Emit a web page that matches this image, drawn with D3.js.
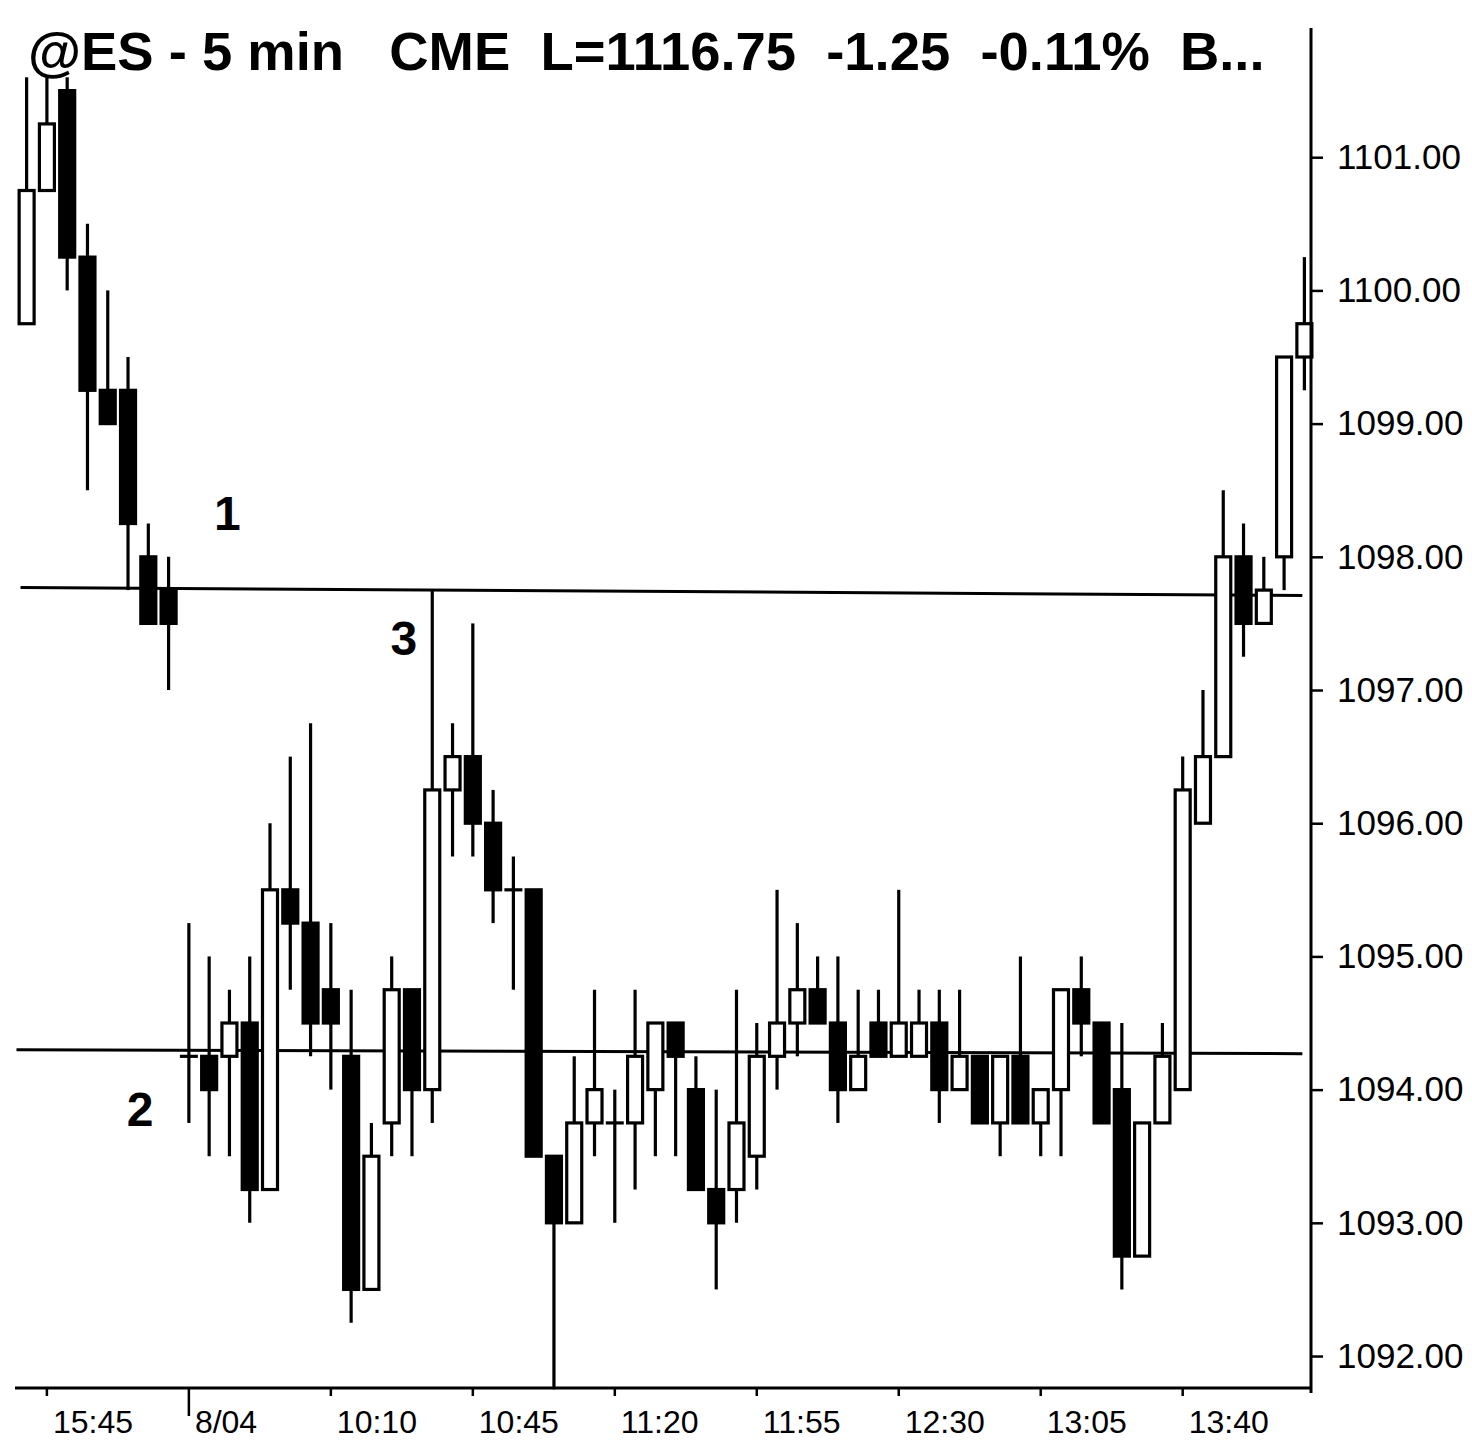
<!DOCTYPE html>
<html><head><meta charset="utf-8">
<script src="https://cdn.jsdelivr.net/npm/d3@7"></script>
<style>body{margin:0;background:#fff}svg{display:block}</style>
</head><body>
<svg id="chart" width="1472" height="1443"></svg>
<script>
// ---- data ----
const titleText = "@ES - 5 min   CME  L=1116.75  -1.25  -0.11%  B...";
const barTimes = [
  "15:40","15:45","15:50","15:55","16:00","16:05","16:10","16:15",
  "09:35","09:40","09:45","09:50","09:55","10:00","10:05","10:10","10:15","10:20","10:25","10:30",
  "10:35","10:40","10:45","10:50","10:55","11:00","11:05","11:10","11:15","11:20","11:25","11:30",
  "11:35","11:40","11:45","11:50","11:55","12:00","12:05","12:10","12:15","12:20","12:25","12:30",
  "12:35","12:40","12:45","12:50","12:55","13:00","13:05","13:10","13:15","13:20","13:25","13:30",
  "13:35","13:40","13:45","13:50","13:55","14:00","14:05","14:10"
];
const openVals = [
  1099.75,1100.75,1101.5,1100.25,1099.25,1099.25,1098.0,1097.75,
  1094.25,1094.25,1094.25,1094.5,1093.25,1095.5,1095.25,1094.75,1094.25,1092.5,1093.75,1094.75,
  1094.0,1096.25,1096.5,1096.0,1095.5,1095.5,1093.5,1093.0,1093.75,1093.75,1093.75,1094.0,
  1094.5,1094.0,1093.25,1093.25,1093.5,1094.25,1094.5,1094.75,1094.5,1094.0,1094.5,1094.25,
  1094.25,1094.5,1094.0,1094.25,1093.75,1094.25,1093.75,1094.0,1094.75,1094.5,1094.0,1092.75,
  1093.75,1094.0,1096.0,1096.5,1098.0,1097.5,1098.0,1099.5
];
const highVals = [
  1101.6,1101.6,1101.6,1100.5,1100.0,1099.5,1098.25,1098.0,
  1095.25,1095.0,1094.75,1095.0,1096.0,1096.5,1096.75,1095.25,1094.75,1093.75,1095.0,1094.75,
  1097.75,1096.75,1097.5,1096.25,1095.75,1095.5,1093.5,1094.25,1094.75,1094.0,1094.75,1094.5,
  1094.5,1094.25,1094.0,1094.75,1094.5,1095.5,1095.25,1095.0,1095.0,1094.75,1094.75,1095.5,
  1094.75,1094.75,1094.75,1094.25,1094.25,1095.0,1094.0,1094.75,1095.0,1094.5,1094.5,1093.75,
  1094.5,1096.5,1097.0,1098.5,1098.25,1098.0,1099.5,1100.25
];
const lowVals = [
  1099.75,1100.75,1100.0,1098.5,1099.0,1097.75,1097.5,1097.0,
  1093.75,1093.5,1093.5,1093.0,1093.25,1094.75,1094.25,1094.0,1092.25,1092.5,1093.5,1093.5,
  1093.75,1095.75,1095.75,1095.25,1094.75,1093.5,1091.75,1093.0,1093.5,1093.0,1093.25,1093.5,
  1093.5,1093.25,1092.5,1093.0,1093.25,1094.0,1094.25,1094.5,1093.75,1094.0,1094.25,1094.25,
  1094.25,1093.75,1094.0,1093.75,1093.5,1093.75,1093.5,1093.5,1094.25,1093.75,1092.5,1092.75,
  1093.75,1094.0,1096.0,1096.5,1097.25,1097.5,1097.75,1099.25
];
const closeVals = [
  1100.75,1101.25,1100.25,1099.25,1099.0,1098.25,1097.5,1097.5,
  1094.25,1094.0,1094.5,1093.25,1095.5,1095.25,1094.5,1094.5,1092.5,1093.5,1094.75,1094.0,
  1096.25,1096.5,1096.0,1095.5,1095.5,1093.5,1093.0,1093.75,1094.0,1093.75,1094.25,1094.5,
  1094.25,1093.25,1093.0,1093.75,1094.25,1094.5,1094.75,1094.5,1094.0,1094.25,1094.25,1094.5,
  1094.5,1094.0,1094.25,1093.75,1094.25,1093.75,1094.0,1094.75,1094.5,1093.75,1092.75,1093.75,
  1094.25,1096.25,1096.5,1098.0,1097.5,1097.75,1099.5,1099.75
];
const yTickValues = [1092,1093,1094,1095,1096,1097,1098,1099,1100,1101];
const xTickTimes  = ["15:45","09:35","10:10","10:45","11:20","11:55","12:30","13:05","13:40"];
const xTickLabels = ["15:45","8/04","10:10","10:45","11:20","11:55","12:30","13:05","13:40"];
const sessionStartTime = "09:35";
// hand-drawn level lines (bar index from/to, price at each end)
const levelFromIdx  = [-0.3, -0.5];
const levelToIdx    = [62.9, 62.9];
const levelFromPrice = [1097.77, 1094.30];
const levelToPrice   = [1097.71, 1094.27];
// annotations
const noteText  = ["1","2","3"];
const noteIdx   = [9.9, 5.6, 18.6];
const notePrice = [1098.2, 1093.73, 1097.26];

// ---- layout ----
const svg = d3.select("#chart");
svg.append("rect").attr("width",1472).attr("height",1443).attr("fill","#fff");
const FONT = "'Liberation Sans', Arial, sans-serif";
const axisX = 1311, axisBottom = 1388;

const x = d3.scaleBand().domain(barTimes).range([18, 1313]).paddingInner(0.15).paddingOuter(0);
const cx = t => x(t) + x.bandwidth()/2;
const xi = d3.scaleLinear().domain([0, barTimes.length-1]).range([cx(barTimes[0]), cx(barTimes[barTimes.length-1])]);
const y = d3.scaleLinear().domain([1091.76, 1101.97]).range([axisBottom, 28]);

const bars = barTimes.map((t,i)=>({t, o:openVals[i], h:highVals[i], l:lowVals[i], c:closeVals[i]}));

// level lines
const levels = levelFromIdx.map((f,i)=>({f, to:levelToIdx[i], p1:levelFromPrice[i], p2:levelToPrice[i]}));
svg.append("g").selectAll("line").data(levels).join("line")
  .attr("x1", d=>xi(d.f)).attr("x2", d=>xi(d.to))
  .attr("y1", d=>y(d.p1)).attr("y2", d=>y(d.p2))
  .attr("stroke","#000").attr("stroke-width",3);

// candles
const BW = 15;
const g = svg.append("g");
const cg = g.selectAll("g").data(bars).join("g");
cg.append("line")
  .attr("x1", d=>cx(d.t)).attr("x2", d=>cx(d.t))
  .attr("y1", d=>y(d.h)).attr("y2", d=>y(d.l))
  .attr("stroke","#000").attr("stroke-width",3.2);
cg.filter(d=>d.o!==d.c).append("rect")
  .attr("x", d=>cx(d.t)-BW/2).attr("width", BW)
  .attr("y", d=>y(Math.max(d.o,d.c)))
  .attr("height", d=>Math.abs(y(d.o)-y(d.c)))
  .attr("fill", d=>d.c>d.o ? "#fff" : "#000")
  .attr("stroke","#000").attr("stroke-width",3.2);
cg.filter(d=>d.o===d.c).append("line")
  .attr("x1", d=>cx(d.t)-BW/2-1.5).attr("x2", d=>cx(d.t)+BW/2+1.5)
  .attr("y1", d=>y(d.o)).attr("y2", d=>y(d.o))
  .attr("stroke","#000").attr("stroke-width",3.2);

// x axis
const xAxis = d3.axisBottom(x).tickValues(xTickTimes).tickSize(8).tickSizeOuter(0)
  .tickFormat((d,i)=>xTickLabels[i]);
const xg = svg.append("g").attr("transform",`translate(0,${axisBottom})`).call(xAxis);
xg.select(".domain").attr("d", `M15,0H${axisX}`).attr("stroke","#000").attr("stroke-width",3);
xg.selectAll(".tick").attr("transform", d=>`translate(${cx(d)},0)`);
xg.selectAll(".tick line").attr("stroke","#000").attr("stroke-width",2.5)
  .attr("y2", d=> d===sessionStartTime ? 28 : 8);
xg.selectAll(".tick text").attr("text-anchor","start").attr("x",6).attr("y",22)
  .attr("font-family",FONT).attr("font-size",32).attr("fill","#000");

// y axis
const yAxis = d3.axisRight(y).tickValues(yTickValues).tickSize(12).tickSizeOuter(0)
  .tickFormat(d=>d.toFixed(2));
const yg = svg.append("g").attr("transform",`translate(${axisX},0)`).call(yAxis);
yg.select(".domain").attr("d", `M0,28V${axisBottom+5}`).attr("stroke","#000").attr("stroke-width",3);
yg.selectAll(".tick line").attr("stroke","#000").attr("stroke-width",2.5);
yg.selectAll(".tick text").attr("x",26).attr("font-family",FONT).attr("font-size",35).attr("fill","#000");

// annotations
svg.append("g").selectAll("text").data(noteText).join("text")
  .attr("x",(d,i)=>xi(noteIdx[i])).attr("y",(d,i)=>y(notePrice[i]))
  .attr("text-anchor","middle").attr("font-family",FONT).attr("font-weight","bold")
  .attr("font-size",48).attr("fill","#000").text(d=>d);

// title
const title = svg.append("text").attr("x",28).attr("y",70)
  .attr("xml:space","preserve").style("white-space","pre")
  .attr("font-family",FONT).attr("font-weight","bold").attr("font-size",50)
  .attr("fill","#000").text(titleText);
const w = title.node().getComputedTextLength();
title.attr("font-size", 50*1237/w);
</script>
</body></html>
